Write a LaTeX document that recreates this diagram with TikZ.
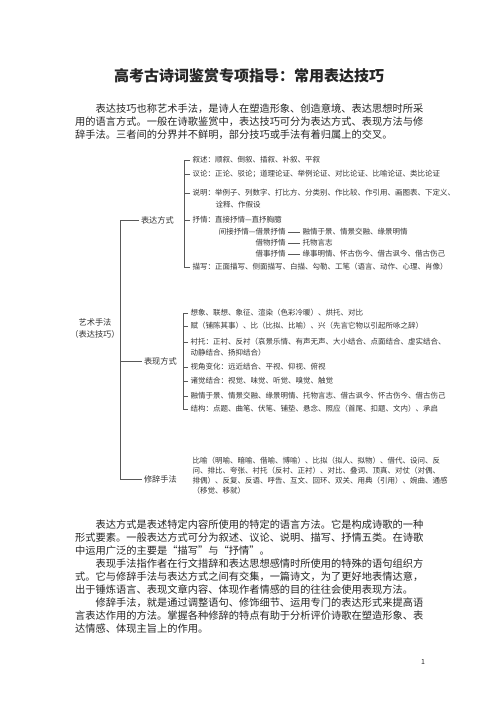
\documentclass[tikz,border=0pt]{standalone}
\usepackage{fontspec}
\setmainfont{Noto Sans CJK SC}
\usepackage{tikz}
\usetikzlibrary{positioning}

\begin{document}
\begin{tikzpicture}
    [
      x = 1pt, y = -1pt,
      every node/.style = {inner sep=0pt, text=black!85},
      item/.style = {anchor=west, outer xsep=2.5pt, font=\fontsize{7.5}{9.8}\selectfont, text=black!80},
      branch/.style = {anchor=west, outer xsep=2pt, font=\fontsize{8.2}{12}\selectfont, text=black!80},
      body/.style = {anchor=north west, align=left, font=\fontsize{10.24}{13}\selectfont},
      link/.style = {draw=black!65, line width=0.6pt}
    ]
    \useasboundingbox[fill=white] (0,0) rectangle (500,707);

    % title and introduction
    \node[font=\bfseries\fontsize{15}{15}\selectfont] (title) at (249,76) {高考古诗词鉴赏专项指导：常用表达技巧};
    \node[body] (intro) at (75,103.2) {\hspace*{2em}表达技巧也称艺术手法，是诗人在塑造形象、创造意境、表达思想时所采\\
      用的语言方式。一般在诗歌鉴赏中，表达技巧可分为表达方式、表现方法与修\\
      辞手法。三者间的分界并不鲜明，部分技巧或手法有着归属上的交叉。};

    % left part of the chart
    \node[branch, align=center, anchor=center] (root) at (95,328) {艺术手法\\（表达技巧）};
    \node[branch] (bd) at (139,220) {表达方式};
    \node[branch] (bx) at (142,361) {表现方式};
    \node[branch] (xc) at (142,479) {修辞手法};
    \coordinate (spine) at (120,0);
    \draw[link] (bd.west) -- (bd.west -| spine) -- (xc.west -| spine) -- (xc.west);
    \draw[link] (bx.west -| spine) -- (bx.west);

    % biaoda fangshi
    \node[item] (xs) at (190,160) {叙述：顺叙、倒叙、插叙、补叙、平叙};
    \node[item] (yl) at (190,174) {议论：正论、驳论；道理论证、举例论证、对比论证、比喻论证、类比论证};
    \node[item] (sm) at (190,193) {说明：举例子、列数字、打比方、分类别、作比较、作引用、画图表、下定义、};
    \node[item] (sm2) at (213,205) {诠释、作假设};
    \node[item] (sq) at (190,220) {抒情：直接抒情—直抒胸臆};
    \node[item] (jj) at (253,232) {借景抒情};
    \node[item, anchor=east, outer xsep=0pt, xshift=2.5pt] (jjl) at (jj.west) {间接抒情—};
    \node[item] (jw) at (253,243) {借物抒情};
    \node[item] (js) at (253,254) {借事抒情};
    \node[item, right=12pt of jj] (jjt) {融情于景、情景交融、缘景明情};
    \node[item, right=12pt of jw] (jwt) {托物言志};
    \node[item, right=12pt of js] (jst) {缘事明情、怀古伤今、借古讽今、借古伤己};
    \node[item] (ms) at (190,267) {描写：正面描写、侧面描写、白描、勾勒、工笔（语言、动作、心理、肖像）};
    \draw[link] (xs.west) -- ++(-6,0) |- (ms.west);
    \draw[link] (yl.west) -- ++(-6,0) (sm.west) -- ++(-6,0) (sq.west) -- ++(-6,0);
    \draw[link] (jj) -- (jjt) (jw) -- (jwt) (js) -- (jst);

    % biaoxian fangshi
    \node[item] (x1) at (188,313) {想象、联想、象征、渲染（色彩冷暖）、烘托、对比};
    \node[item] (x2) at (188,326) {赋（铺陈其事）、比（比拟、比喻）、兴（先言它物以引起所咏之辞）};
    \node[item] (x3) at (188,342) {衬托：正衬、反衬（哀景乐情、有声无声、大小结合、点面结合、虚实结合、};
    \node[item] (x3b) at (188,353) {动静结合、扬抑结合）};
    \node[item] (x4) at (188,367) {视角变化：远近结合、平视、仰视、俯视};
    \node[item] (x5) at (188,381) {诸觉结合：视觉、味觉、听觉、嗅觉、触觉};
    \node[item] (x6) at (188,396) {融情于景、情景交融、缘景明情、托物言志、借古讽今、怀古伤今、借古伤己};
    \node[item] (x7) at (188,409) {结构：点题、曲笔、伏笔、铺垫、悬念、照应（首尾、扣题、文内）、承启};
    \draw[link] (x1.west) -- ++(-4.5,0) |- (x7.west);
    \draw[link] (x2.west) -- ++(-4.5,0) (x3.west) -- ++(-4.5,0) (x4.west) -- ++(-4.5,0)
                (x5.west) -- ++(-4.5,0) (x6.west) -- ++(-4.5,0);

    % xiuci shoufa
    \node[item, anchor=north west, align=left] (xcl) at (190,457.3) {比喻（明喻、暗喻、借喻、博喻）、比拟（拟人、拟物）、借代、设问、反\\
      问、排比、夸张、衬托（反衬、正衬）、对比、叠词、顶真、对仗（对偶、\\
      排偶）、反复、反语、呼告、互文、回环、双关、用典（引用）、婉曲、通感\\
      （移觉、移就）};

    % closing paragraphs
    \node[body] (notes) at (75,519.9) {\hspace*{2em}表达方式是表述特定内容所使用的特定的语言方法。它是构成诗歌的一种\\
      形式要素。一般表达方式可分为叙述、议论、说明、描写、抒情五类。在诗歌\\
      中运用广泛的主要是“描写”与“抒情”。\\
      \hspace*{2em}表现手法指作者在行文措辞和表达思想感情时所使用的特殊的语句组织方\\
      式。它与修辞手法与表达方式之间有交集，一篇诗文，为了更好地表情达意，\\
      出于锤炼语言、表现文章内容、体现作者情感的目的往往会使用表现方法。\\
      \hspace*{2em}修辞手法，就是通过调整语句、修饰细节、运用专门的表达形式来提高语\\
      言表达作用的方法。掌握各种修辞的特点有助于分析评价诗歌在塑造形象、表\\
      达情感、体现主旨上的作用。};
    \node[font=\fontsize{7}{7}\selectfont] (page) at (423,662) {1};
\end{tikzpicture}
\end{document}
